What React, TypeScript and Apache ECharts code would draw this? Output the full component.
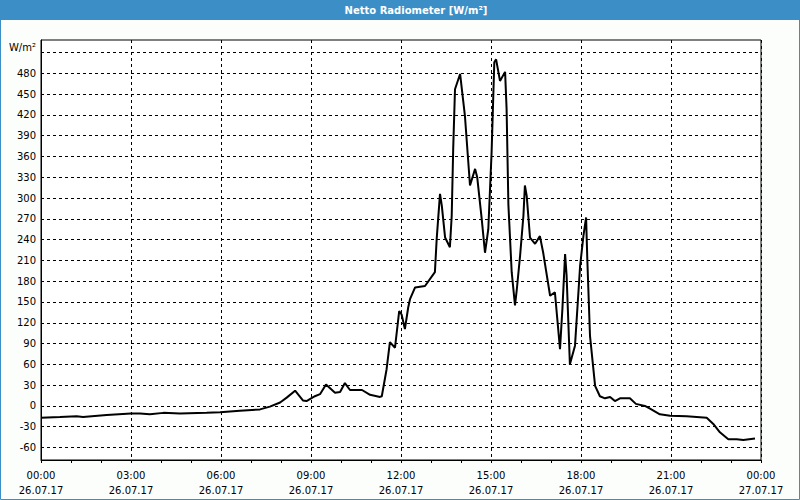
import React, { useEffect, useRef } from "react";
import * as echarts from "echarts";

const hours = [
  0, 0.63, 1.19, 1.4, 2.19, 3.0, 3.3, 3.63, 4.08, 4.63, 5.52, 5.97, 6.63, 7.3, 7.63, 7.97, 8.19, 8.47, 8.73, 8.85,
  9.13, 9.3, 9.5, 9.8, 9.97, 10.13, 10.3, 10.7, 10.97, 11.3, 11.36, 11.52, 11.63, 11.8, 11.94, 12.02, 12.13, 12.24,
  12.3, 12.47, 12.8, 13.13, 13.19, 13.3, 13.36, 13.47, 13.63, 13.69, 13.74, 13.8, 13.97, 14.13, 14.3, 14.47, 14.54,
  14.69, 14.8, 14.91, 15.02, 15.11, 15.17, 15.3, 15.47, 15.52, 15.58, 15.69, 15.8, 15.86, 15.97, 16.08, 16.13, 16.19,
  16.3, 16.47, 16.63, 16.74, 16.97, 17.13, 17.3, 17.38, 17.47, 17.52, 17.63, 17.8, 17.97, 18.08, 18.17, 18.21, 18.3,
  18.47, 18.63, 18.8, 18.97, 19.13, 19.3, 19.63, 19.83, 20.13, 20.3, 20.63, 20.97, 21.52, 22.19, 22.41, 22.63, 22.91,
  23.19, 23.41, 23.8,
];

const values = [
  -17, -16, -15, -16, -13, -11, -11, -12, -10, -11, -10, -9, -7, -5, -1, 5, 12, 22, 8, 7,
  14, 17, 31, 19, 20, 33, 23, 23, 16, 13, 14, 53, 92, 84, 137, 132, 111, 142,
  154, 171, 173, 193, 241, 306, 289, 243, 229, 274, 371, 457, 479, 419, 318, 342, 330,
  270, 221, 255, 366, 496, 500, 469, 482, 428, 290, 193, 145, 168, 217, 274, 318, 303,
  243, 234, 245, 221, 159, 164, 82, 140, 219, 188, 60, 87, 202, 245, 272, 212, 101,
  29, 14, 11, 13, 7, 11, 11, 3, 0, -4, -12, -14, -15, -17, -26, -38, -48,
  -48, -49, -47,
];

const yLabels = [-60, -30, 0, 30, 60, 90, 120, 150, 180, 210, 240, 270, 300, 330, 360, 390, 420, 450, 480];
const yGrid = [...yLabels, 510];
const xLabelHours = [0, 3, 6, 9, 12, 15, 18, 21, 24];
const dates = ["26.07.17", "27.07.17"];

const FONT = "DejaVu Sans";
const BLUE = "#3c8fc6";

export default function App() {
  const ref = useRef<HTMLDivElement>(null);

  useEffect(() => {
    if (!ref.current) return;
    const chart = echarts.init(ref.current, undefined, { renderer: "svg" });
    const data = hours.map((h, i) => [h, values[i]]);
    const dash = [3, 3];

    chart.setOption({
      animation: false,
      backgroundColor: "#fcfefc",
      graphic: [
        { type: "rect", shape: { x: 0, y: 0, width: 800, height: 20 }, style: { fill: BLUE }, silent: true },
        {
          type: "rect",
          shape: { x: 0.5, y: 0.5, width: 799, height: 499 },
          style: { fill: "none", stroke: BLUE, lineWidth: 1 },
          silent: true,
        },
        {
          type: "text",
          x: 416,
          y: 10,
          style: {
            text: "Netto Radiometer [W/m²]",
            fill: "#ffffff",
            font: `bold 10px "${FONT}"`,
            align: "center",
            verticalAlign: "middle",
          },
          silent: true,
        },
        {
          type: "text",
          x: 36,
          y: 47,
          style: {
            text: "W/m²",
            fill: "#000",
            font: `10px "${FONT}"`,
            align: "right",
            verticalAlign: "middle",
          },
          silent: true,
        },
      ],
      grid: {
        left: 41,
        right: 39,
        top: 40,
        bottom: 40,
        show: true,
        borderColor: "#000",
        borderWidth: 1,
        backgroundColor: "#ffffff",
      },
      xAxis: {
        type: "value",
        min: 0,
        max: 24,
        interval: 3,
        axisLine: { show: true, onZero: false, lineStyle: { color: "#000", width: 1 } },
        axisTick: { show: true, length: 3, lineStyle: { color: "#000" } },
        minorTick: { show: true, splitNumber: 3, length: 3, lineStyle: { color: "#000" } },
        splitLine: { show: true, lineStyle: { color: "#000", type: dash, width: 1 } },
        axisLabel: {
          color: "#000",
          fontFamily: FONT,
          fontSize: 10,
          lineHeight: 15,
          margin: 8,
          showMinLabel: true,
          showMaxLabel: true,
          formatter: (v: number) => {
            if (!xLabelHours.includes(v)) return "";
            const hh = v % 24;
            const d = v >= 24 ? dates[1] : dates[0];
            return `${String(hh).padStart(2, "0")}:00\n${d}`;
          },
        },
      },
      yAxis: {
        type: "value",
        min: -78,
        max: 528,
        axisLine: { show: true, onZero: false, lineStyle: { color: "#000", width: 1 } },
        axisTick: { show: false },
        splitLine: { show: false },
        axisLabel: {
          color: "#000",
          fontFamily: FONT,
          fontSize: 10,
          margin: 5,
          customValues: yLabels,
        },
      },
      series: [
        {
          type: "line",
          data,
          showSymbol: false,
          symbol: "none",
          lineStyle: { color: "#000", width: 2 },
          z: 3,
          markLine: {
            silent: true,
            symbol: ["none", "none"],
            label: { show: false },
            lineStyle: { color: "#000", type: dash, width: 1 },
            data: yGrid.map((v) => ({ yAxis: v })),
            z: 1,
          },
        },
      ],
    });
    return () => chart.dispose();
  }, []);

  return <div ref={ref} style={{ position: "fixed", left: 0, top: 0, width: 800, height: 500 }} />;
}
